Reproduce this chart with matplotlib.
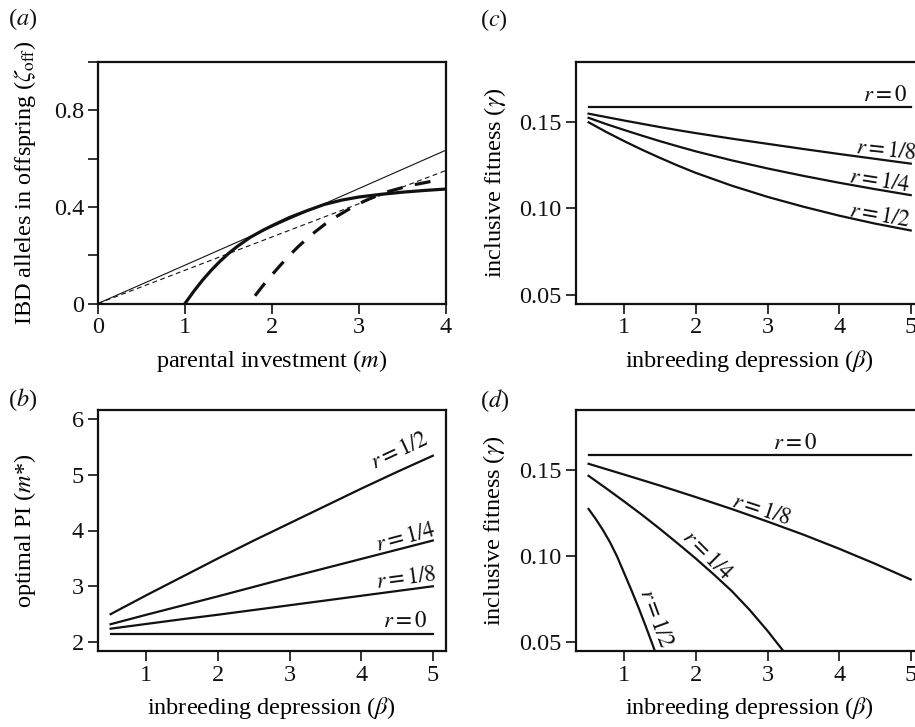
import matplotlib
matplotlib.use('Agg')
import matplotlib.pyplot as plt

plt.rcParams['font.family'] = ['Liberation Serif', 'DejaVu Serif']
plt.rcParams['mathtext.fontset'] = 'stix'
plt.rcParams['lines.scale_dashes'] = False

# ---------------- data ----------------
# panel (a)
a_line_m = [0, 4]
a_line_thin = [0, 0.635]
a_line_dash = [0, 0.551]
a_solid_m = [1.0, 1.1, 1.2, 1.3, 1.4, 1.5, 1.6, 1.75, 1.9, 2.0, 2.2, 2.4, 2.6, 2.8, 3.0, 3.25, 3.5, 3.75, 4.0]
a_solid_z = [0.0, 0.05, 0.096, 0.137, 0.174, 0.207, 0.236, 0.274, 0.304, 0.322, 0.356, 0.384, 0.410, 0.428, 0.441, 0.452, 0.461, 0.468, 0.474]
a_dash_m = [1.805, 1.9, 2.0, 2.1, 2.2, 2.3, 2.4, 2.5, 2.6, 2.75, 2.9, 3.05, 3.2, 3.35, 3.5, 3.65, 3.85]
a_dash_z = [0.032, 0.076, 0.119, 0.160, 0.199, 0.235, 0.268, 0.298, 0.326, 0.362, 0.394, 0.422, 0.446, 0.465, 0.480, 0.493, 0.507]

# panel (b)
b_beta = [0.5, 1, 1.5, 2, 2.5, 3, 3.5, 4, 4.5, 5]
b_r0 = [2.14] * 10
b_r8 = [2.24, 2.325, 2.41, 2.49, 2.575, 2.66, 2.745, 2.83, 2.915, 3.0]
b_r4 = [2.32, 2.49, 2.655, 2.82, 2.99, 3.16, 3.325, 3.49, 3.655, 3.82]
b_r2 = [2.5, 2.84, 3.17, 3.5, 3.82, 4.13, 4.44, 4.75, 5.05, 5.34]

# panel (c)
c_beta = [0.5, 0.75, 1.0, 1.25, 1.5, 1.75, 2.0, 2.5, 3.0, 3.5, 4.0, 4.5, 5.0]
c_r0 = [0.1588] * 13
c_r8 = [0.1550, 0.1530, 0.1510, 0.1491, 0.1472, 0.1454, 0.1437, 0.1405, 0.1375, 0.1345, 0.1316, 0.1288, 0.1260]
c_r4 = [0.1526, 0.1489, 0.1455, 0.1422, 0.1390, 0.1360, 0.1331, 0.1279, 0.1232, 0.1189, 0.1149, 0.1112, 0.1077]
c_r2 = [0.1500, 0.1443, 0.1390, 0.1340, 0.1293, 0.1248, 0.1206, 0.1132, 0.1067, 0.1010, 0.0958, 0.0912, 0.0872]

# panel (d)
d_beta0 = [0.5, 5.0]
d_r0 = [0.1589, 0.1589]
d_beta8 = [0.5, 1.0, 1.5, 2.0, 2.5, 3.0, 3.5, 4.0, 4.5, 5.0]
d_r8 = [0.1537, 0.1474, 0.1410, 0.1343, 0.1274, 0.1201, 0.1125, 0.1043, 0.0956, 0.0864]
d_beta4 = [0.5, 0.75, 1.0, 1.25, 1.5, 1.75, 2.0, 2.25, 2.5, 2.75, 3.0, 3.23]
d_r4 = [0.1467, 0.1393, 0.1317, 0.1239, 0.1157, 0.1072, 0.0985, 0.0893, 0.0797, 0.0687, 0.0565, 0.0443]
d_beta2 = [0.5, 0.6, 0.7, 0.8, 0.9, 1.0, 1.1, 1.2, 1.3, 1.4, 1.43]
d_r2 = [0.1274, 0.1216, 0.1152, 0.1080, 0.0996, 0.0898, 0.0800, 0.0698, 0.0590, 0.0478, 0.0443]

labels_r = ['$r = 0$', '$r = 1/8$', '$r = 1/4$', '$r = 1/2$']

# ---------------- figure ----------------
W, H = 915, 727
fig = plt.figure(figsize=(W / 100, H / 100), dpi=100)


def add_ax(l, r, t, b):
    return fig.add_axes([l / W, 1 - b / H, (r - l) / W, (b - t) / H])


axA = add_ax(98, 446, 62, 303.5)
axC = add_ax(575.7, 923.6, 62, 303.5)
axB = add_ax(97.7, 445.7, 410, 651)
axD = add_ax(575.7, 923.6, 410, 651)

FS = 17.5
LFS = 16.5
K = '#111111'


def style(ax):
    for s in ax.spines.values():
        s.set_linewidth(1.6)
        s.set_color(K)
    ax.tick_params(direction='out', length=7, width=1.2, labelsize=FS, pad=3, colors=K)


for ax in (axA, axB, axC, axD):
    style(ax)

# (a)
axA.plot(a_line_m, a_line_thin, color=K, lw=0.8)
axA.plot(a_line_m, a_line_dash, color=K, lw=0.8, dashes=(3.5, 2.5))
axA.plot(a_solid_m, a_solid_z, color=K, lw=2.3)
axA.plot(a_dash_m, a_dash_z, color=K, lw=2.3, dashes=(11.5, 9))
axA.set_xlim(0, 4)
axA.set_ylim(0, 1.0)
axA.set_xticks([0, 1, 2, 3, 4])
axA.set_yticks([0, 0.2, 0.4, 0.6, 0.8, 1.0])
axA.set_yticklabels(['0', '', '0.4', '', '0.8', ''])
axA.set_xlabel('parental investment ($m$)', fontsize=FS)
axA.set_ylabel(r'IBD alleles in offspring ($\zeta_{\mathrm{off}}$)', fontsize=FS)

# (b)
for y in (b_r0, b_r8, b_r4, b_r2):
    axB.plot(b_beta, y, color=K, lw=1.6)
axB.set_xlim(0.32, 5.18)
axB.set_ylim(1.84, 6.16)
axB.set_xticks([1, 2, 3, 4, 5])
axB.set_yticks([2, 3, 4, 5, 6])
axB.set_xlabel(r'inbreeding depression ($\beta$)', fontsize=FS)
axB.set_ylabel('optimal PI ($m$*)', fontsize=FS)
for lab, x, y, rot in zip(labels_r, [4.61, 4.63, 4.63, 4.54], [2.36, 3.14, 3.87, 5.42], [0, 7.5, 15, 25]):
    axB.text(x, y, lab, fontsize=LFS, ha='center', va='center', rotation=rot, rotation_mode='anchor', color=K)

# (c)
for y in (c_r0, c_r8, c_r4, c_r2):
    axC.plot(c_beta, y, color=K, lw=1.6)
axC.set_xlim(0.32, 5.18)
axC.set_ylim(0.0448, 0.185)
axC.set_xticks([1, 2, 3, 4, 5])
axC.set_yticks([0.05, 0.10, 0.15])
axC.set_yticklabels(['0.05', '0.10', '0.15'])
axC.set_xlabel(r'inbreeding depression ($\beta$)', fontsize=FS)
axC.set_ylabel(r'inclusive fitness ($\gamma$)', fontsize=FS)
for lab, x, y, rot in zip(labels_r, [4.34, 4.22, 4.13, 4.13], [0.1622, 0.1320, 0.1155, 0.0958], [0, -6, -9, -10]):
    axC.text(x, y, lab, fontsize=LFS, ha='left', va='baseline', rotation=rot, rotation_mode='anchor', color=K)

# (d)
axD.plot(d_beta0, d_r0, color=K, lw=1.6)
axD.plot(d_beta8, d_r8, color=K, lw=1.6)
axD.plot(d_beta4, d_r4, color=K, lw=1.6)
axD.plot(d_beta2, d_r2, color=K, lw=1.6)
axD.set_xlim(0.32, 5.18)
axD.set_ylim(0.0448, 0.185)
axD.set_xticks([1, 2, 3, 4, 5])
axD.set_yticks([0.05, 0.10, 0.15])
axD.set_yticklabels(['0.05', '0.10', '0.15'])
axD.set_xlabel(r'inbreeding depression ($\beta$)', fontsize=FS)
axD.set_ylabel(r'inclusive fitness ($\gamma$)', fontsize=FS)
for lab, x, y, rot in zip(labels_r, [3.38, 2.92, 2.15, 1.43], [0.1657, 0.1269, 0.1006, 0.0638], [0, -18, -45, -70]):
    axD.text(x, y, lab, fontsize=LFS, ha='center', va='center', rotation=rot, rotation_mode='anchor', color=K)

# label positions
for ax, yx in ((axA, -0.21), (axB, -0.209), (axC, -0.232), (axD, -0.235)):
    ax.yaxis.label.set_va('center')
    ax.yaxis.set_label_coords(yx, 0.5)
    ax.xaxis.label.set_va('center')
    ax.xaxis.set_label_coords(0.5, -0.237)

for lab, px, py in (('(a)', 23, 19), ('(b)', 23, 400), ('(c)', 494, 20), ('(d)', 495, 401)):
    fig.text(px / W, 1 - py / H, '(' + '$' + lab[1] + '$' + ')', fontsize=FS, ha='center', va='center', color=K)

fig.savefig('out.png', dpi=100)
